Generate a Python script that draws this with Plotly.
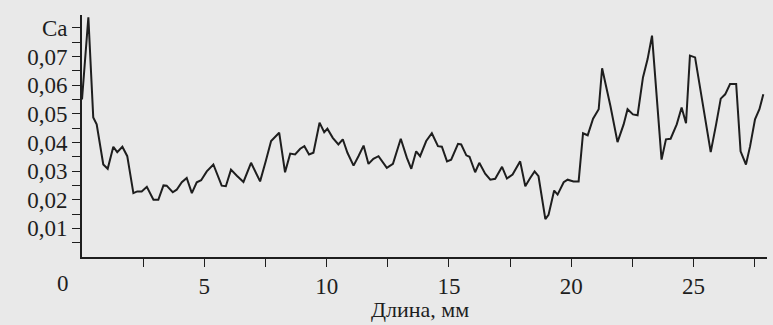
import plotly.graph_objects as go

# Length, mm
length_mm = [0.00, 0.26, 0.46, 0.60, 0.87, 1.05, 1.28, 1.44, 1.65, 1.85,
             2.10, 2.26, 2.44, 2.65, 2.92, 3.12, 3.33, 3.46, 3.71, 3.87,
             4.08, 4.28, 4.49, 4.69, 4.87, 5.10, 5.37, 5.71, 5.88, 6.09,
             6.33, 6.60, 6.91, 7.28, 7.51, 7.73, 8.06, 8.30, 8.51, 8.71,
             8.92, 9.09, 9.28, 9.46, 9.71, 9.90, 10.03, 10.25, 10.48, 10.66,
             10.85, 11.10, 11.30, 11.51, 11.71, 11.91, 12.12, 12.46, 12.71, 13.03,
             13.28, 13.46, 13.66, 13.82, 14.07, 14.30, 14.55, 14.71, 14.92, 15.09,
             15.37, 15.50, 15.71, 15.84, 16.07, 16.24, 16.48, 16.69, 16.89, 17.17,
             17.37, 17.60, 17.91, 18.12, 18.32, 18.50, 18.66, 18.94, 19.07, 19.30,
             19.44, 19.69, 19.85, 20.09, 20.30, 20.48, 20.67, 20.89, 21.12, 21.26,
             21.60, 21.89, 22.14, 22.30, 22.52, 22.71, 22.93, 23.12, 23.30, 23.69,
             23.87, 24.06, 24.31, 24.51, 24.69, 24.85, 25.06, 25.40, 25.70, 25.92,
             26.11, 26.29, 26.49, 26.74, 26.92, 27.14, 27.31, 27.51, 27.69, 27.85]

# Ca concentration
ca = [0.0550, 0.0837, 0.0487, 0.0463, 0.0323, 0.0308, 0.0385, 0.0366, 0.0385, 0.0352,
      0.0223, 0.0229, 0.0229, 0.0245, 0.0200, 0.0200, 0.0250, 0.0249, 0.0226, 0.0235,
      0.0261, 0.0276, 0.0223, 0.0261, 0.0268, 0.0299, 0.0323, 0.0249, 0.0247, 0.0305,
      0.0284, 0.0262, 0.0329, 0.0264, 0.0334, 0.0405, 0.0434, 0.0296, 0.0361, 0.0358,
      0.0378, 0.0387, 0.0358, 0.0364, 0.0469, 0.0436, 0.0448, 0.0416, 0.0393, 0.0411,
      0.0364, 0.0319, 0.0352, 0.0389, 0.0325, 0.0343, 0.0352, 0.0311, 0.0325, 0.0413,
      0.0346, 0.0308, 0.0369, 0.0352, 0.0405, 0.0432, 0.0387, 0.0385, 0.0334, 0.0340,
      0.0395, 0.0393, 0.0355, 0.0350, 0.0296, 0.0329, 0.0291, 0.0270, 0.0273, 0.0315,
      0.0274, 0.0288, 0.0334, 0.0247, 0.0276, 0.0299, 0.0282, 0.0132, 0.0147, 0.0232,
      0.0218, 0.0261, 0.0270, 0.0264, 0.0264, 0.0432, 0.0425, 0.0483, 0.0516, 0.0659,
      0.0527, 0.0401, 0.0463, 0.0516, 0.0498, 0.0495, 0.0627, 0.0691, 0.0773, 0.0340,
      0.0411, 0.0413, 0.0463, 0.0522, 0.0467, 0.0703, 0.0697, 0.0516, 0.0366, 0.0463,
      0.0553, 0.0568, 0.0604, 0.0604, 0.0369, 0.0323, 0.0387, 0.0481, 0.0516, 0.0568]

x_tickvals = [2.5, 5, 7.5, 10, 12.5, 15, 17.5, 20, 22.5, 25, 27.5]
x_ticktext = ["", "5", "", "10", "", "15", "", "20", "", "25", ""]
y_tickvals = [0.005, 0.01, 0.015, 0.02, 0.025, 0.03, 0.035, 0.04,
              0.045, 0.05, 0.055, 0.06, 0.065, 0.07, 0.075, 0.08]
y_ticktext = ["", "0,01", "", "0,02", "", "0,03", "", "0,04",
              "", "0,05", "", "0,06", "", "0,07", "", "Ca"]
x_title = "Длина, мм"
origin_label = "0"

FONT = "Liberation Serif"
INK = "#1e1e1e"
BG = "#e9e9e9"

fig = go.Figure()
fig.add_trace(go.Scatter(x=length_mm, y=ca, mode="lines",
                         line=dict(color=INK, width=2), showlegend=False))

fig.update_layout(
    width=773, height=325,
    margin=dict(l=82, r=6, t=15, b=68),
    paper_bgcolor=BG, plot_bgcolor=BG,
    font=dict(family=FONT, size=23, color=INK),
    xaxis=dict(range=[0, 28], showgrid=False, zeroline=False,
               showline=True, linecolor=INK, linewidth=1.6,
               ticks="outside", ticklen=8, tickwidth=1.4, tickcolor=INK,
               tickvals=x_tickvals, ticktext=x_ticktext,
               tickfont=dict(family=FONT, size=23, color=INK)),
    yaxis=dict(range=[0, 0.0845], showgrid=False, zeroline=False,
               showline=True, linecolor=INK, linewidth=1.6,
               ticks="outside", ticklen=8, tickwidth=1.4, tickcolor=INK,
               tickvals=y_tickvals, ticktext=y_ticktext,
               tickfont=dict(family=FONT, size=23, color=INK)),
    annotations=[
        dict(text=x_title, xref="x", x=13.8, yref="paper", y=0,
             yanchor="top", yshift=-38, showarrow=False,
             font=dict(family=FONT, size=22, color=INK)),
        dict(text=origin_label, xref="paper", x=-0.04, yref="paper", y=0,
             yanchor="top", yshift=-12, showarrow=False,
             font=dict(family=FONT, size=23, color=INK)),
    ],
)

fig.write_html("out.html")
